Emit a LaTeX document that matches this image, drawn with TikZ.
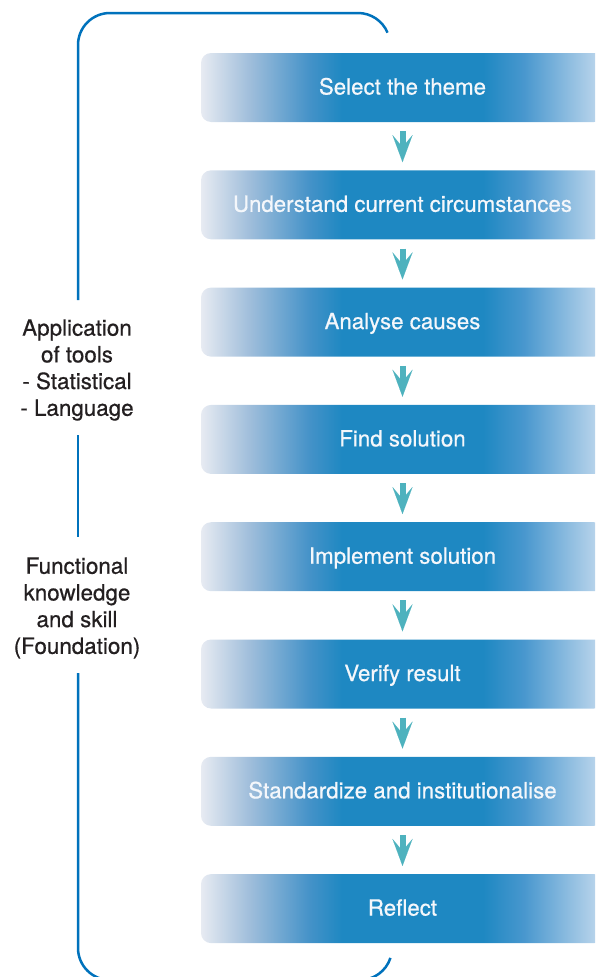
\documentclass[tikz,border=0pt]{standalone}
\usepackage{fontspec}
\setmainfont{TeX Gyre Heros}
\newfontfamily\medfont{TeX Gyre Heros}[FakeBold=0.6]
\usetikzlibrary{arrows.meta}

\definecolor{bracketblue}{RGB}{0,114,188}
\definecolor{arrowteal}{RGB}{78,178,190}
\definecolor{labelgray}{RGB}{35,31,32}
\definecolor{boxtext}{RGB}{244,247,251}
\definecolor{shA}{RGB}{231,235,242}
\definecolor{shB}{RGB}{160,190,219}
\definecolor{shC}{RGB}{68,146,200}
\definecolor{shD}{RGB}{30,136,194}
\definecolor{shE}{RGB}{72,151,206}
\definecolor{shF}{RGB}{196,218,238}

% horizontal fade: pale on the left, solid blue in the middle, pale again on the right
\pgfdeclarehorizontalshading{boxshade}{100bp}{%
  color(0bp)=(shA); color(25bp)=(shA); color(31bp)=(shB);
  color(38.5bp)=(shC); color(42.5bp)=(shD); color(60bp)=(shD);
  color(65bp)=(shE); color(75bp)=(shF); color(100bp)=(shF)}

\tikzset{
  stepbox/.style={shading=boxshade, rounded corners=10pt, draw=none,
    minimum width=403pt, minimum height=69pt, inner sep=0pt,
    text height=15pt, text depth=1pt,
    text=boxtext, font=\medfont\fontsize{22.3}{26}\selectfont},
  flowarrow/.style={draw=arrowteal, line width=6pt,
    shorten <=9pt, shorten >=8pt,
    -{Stealth[length=27pt, width=20pt, inset=12pt, line width=0.01pt, fill=arrowteal]}},
  sidelabel/.style={align=center, text=labelgray, inner sep=0pt,
    font=\medfont\fontsize{22.4}{26.7}\selectfont},
  bracket/.style={draw=bracketblue, line width=2.5pt}
}

\begin{document}
\begin{tikzpicture}[x=1pt, y=-1pt]
\useasboundingbox (0,0) rectangle (595,977);
\clip (0,0) rectangle (595,977);

% process steps
\node[stepbox] (s1) at (402.5, 87.5) {Select the theme};
\node[stepbox] (s2) at (402.5,204.8) {Understand current circumstances};
\node[stepbox] (s3) at (402.5,322.1) {Analyse causes};
\node[stepbox] (s4) at (402.5,439.4) {Find solution};
\node[stepbox] (s5) at (402.5,556.7) {Implement solution};
\node[stepbox] (s6) at (402.5,674.0) {Verify result};
\node[stepbox] (s7) at (402.5,791.3) {Standardize and institutionalise};
\node[stepbox] (s8) at (402.5,908.6) {Reflect};

% arrows between steps
\foreach \a/\b in {s1/s2,s2/s3,s3/s4,s4/s5,s5/s6,s6/s7,s7/s8}
  \draw[flowarrow] (\a) -- (\b);

% side labels
\node[sidelabel] (tools) at (77,370) {Application\\of tools\\- Statistical\\- Language};
\node[sidelabel] (found) at (77,608) {Functional\\knowledge\\and skill\\(Foundation)};

% enclosing bracket, broken where the labels sit
\draw[bracket] (358,45) ++(-22.7:32) arc[start angle=-22.7, end angle=-90, radius=32]
  -- (110,13) arc[start angle=-90, end angle=-180, radius=32] -- (78,300);
\draw[bracket] (78,435) -- (78,537);
\draw[bracket] (78,673) -- (78,948) arc[start angle=180, end angle=90, radius=32]
  -- (360,980) arc[start angle=90, end angle=18, radius=32];
\end{tikzpicture}
\end{document}
